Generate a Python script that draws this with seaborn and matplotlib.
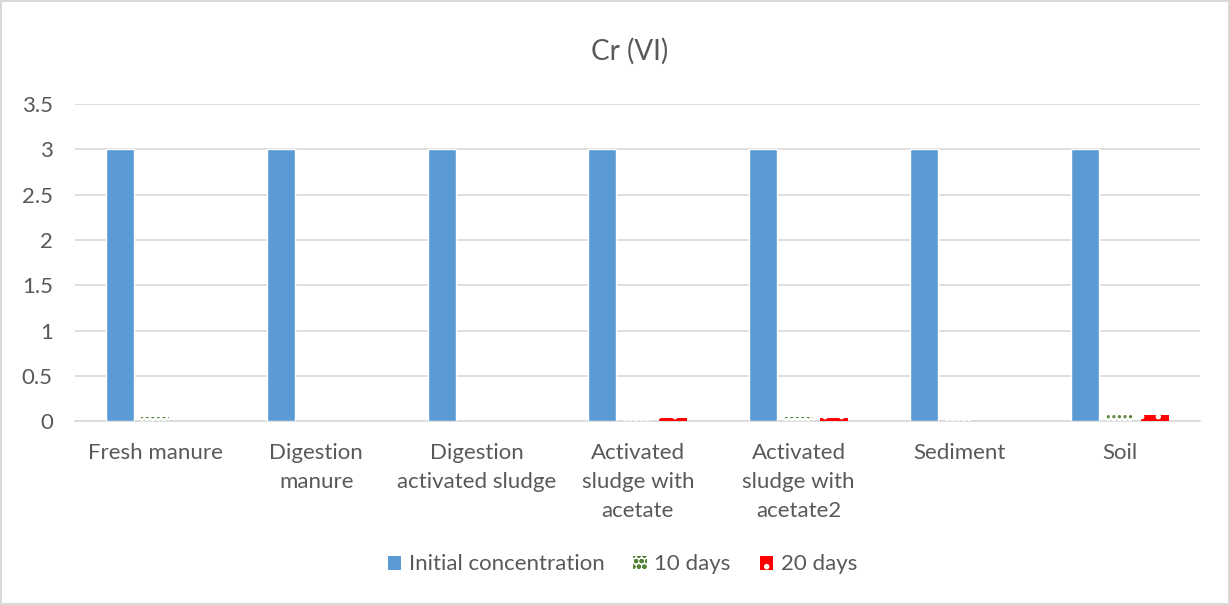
import matplotlib
matplotlib.use("Agg")
import matplotlib.pyplot as plt
from matplotlib.patches import Patch
import seaborn as sns
import pandas as pd

# Samples and measured Cr(VI) concentrations (mg/L)
categories = [
    "Fresh manure",
    "Digestion\nmanure",
    "Digestion\nactivated sludge",
    "Activated\nsludge with\nacetate",
    "Activated\nsludge with\nacetate2",
    "Sediment",
    "Soil",
]
series_names = ["Initial concentration", "10 days", "20 days"]
initial_conc = [3, 3, 3, 3, 3, 3, 3]
after_10_days = [0.04, 0.0, 0.0, 0.02, 0.04, 0.015, 0.065]
after_20_days = [0.0, 0.0, 0.0, 0.03, 0.03, 0.0, 0.07]
y_ticks = [0, 0.5, 1, 1.5, 2, 2.5, 3, 3.5]

df = pd.DataFrame({
    "sample": categories * 3,
    "series": [s for s in series_names for _ in categories],
    "value": initial_conc + after_10_days + after_20_days,
})

BLUE = "#5B9BD5"
GREEN = "#548235"
RED = "#FF0000"
TEXT = "#595959"
GRID = "#D9D9D9"

sns.set_theme(style="white")
plt.rcParams["font.family"] = ["Lato", "DejaVu Sans"]
plt.rcParams["hatch.linewidth"] = 1.5

fig = plt.figure(figsize=(12.3, 6.05), dpi=100)
fig.patch.set_edgecolor(GRID)
fig.patch.set_linewidth(1.5)
ax = fig.add_axes([0.061, 0.304, 0.915, 0.524])

sns.barplot(
    data=df, x="sample", y="value", hue="series",
    palette=[BLUE, "white", RED], saturation=1, width=0.66, gap=0.21,
    errorbar=None, legend=False, ax=ax, zorder=3,
)

# pattern fills for the later measurements
for bar in ax.containers[1]:
    bar.set_facecolor("white")
    bar.set_edgecolor(GREEN)
    bar.set_hatch("...")
    bar.set_linewidth(0)
for bar in ax.containers[2]:
    bar.set_facecolor(RED)
    bar.set_edgecolor("white")
    bar.set_hatch(".")
    bar.set_linewidth(0)

ax.set_ylim(0, 3.5)
ax.set_xlim(-0.5, len(categories) - 0.5)
ax.set_yticks(y_ticks)
ax.set_yticklabels([f"{t:g}" for t in y_ticks])
ax.yaxis.grid(True, color=GRID, linewidth=1.2, zorder=0)
ax.set_axisbelow(True)
for side in ["top", "right", "left"]:
    ax.spines[side].set_visible(False)
ax.spines["bottom"].set_color(GRID)
ax.spines["bottom"].set_linewidth(1.2)
ax.tick_params(axis="both", length=0, labelsize=16, colors=TEXT)
ax.tick_params(axis="y", pad=16)
ax.tick_params(axis="x", pad=16)
for lbl in ax.get_xticklabels():
    lbl.set_linespacing(1.55)
ax.set_xlabel("")
ax.set_ylabel("")

fig.text(0.512, 0.915, "Cr (VI)", ha="center", va="center", fontsize=20, color=TEXT)

handles = [
    Patch(facecolor=BLUE, linewidth=0),
    Patch(facecolor="white", edgecolor=GREEN, hatch="ooo", linewidth=0),
    Patch(facecolor=RED, edgecolor="white", hatch=".", linewidth=0),
]
leg = fig.legend(
    handles, series_names, loc="center", bbox_to_anchor=(0.506, 0.067),
    ncol=3, frameon=False, fontsize=16, handlelength=0.6, handleheight=0.6,
    handletextpad=0.35, columnspacing=1.3,
)
for t in leg.get_texts():
    t.set_color(TEXT)

fig.savefig("out.png", dpi=100)
